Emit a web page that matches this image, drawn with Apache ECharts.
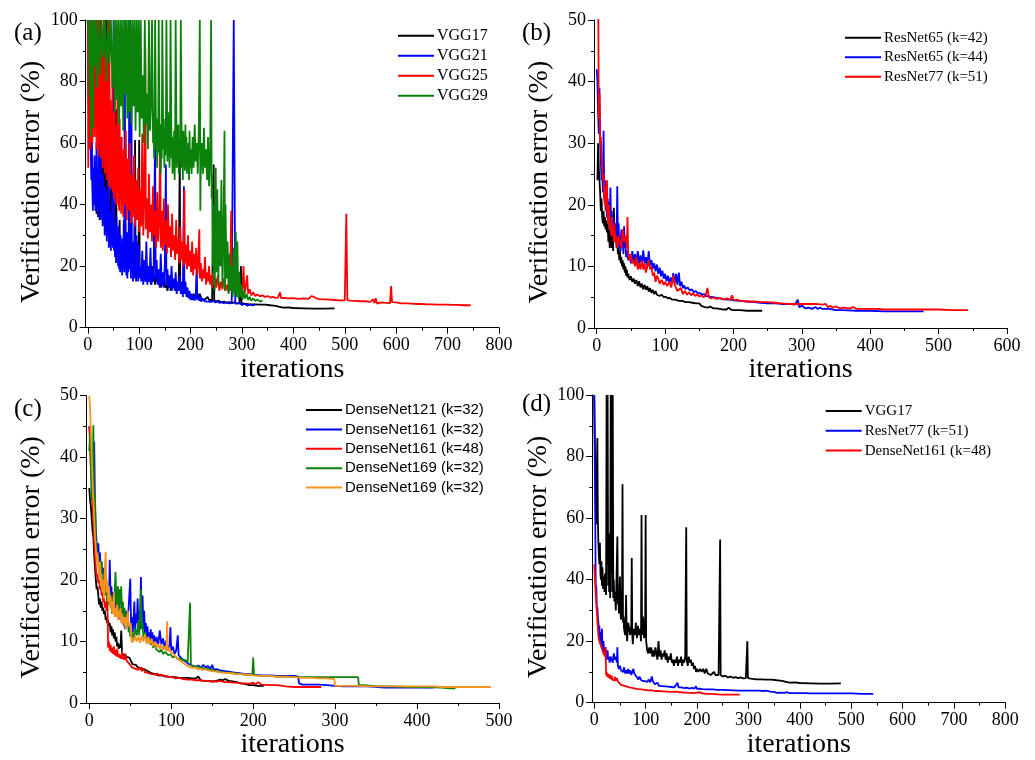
<!DOCTYPE html>
<html>
<head>
<meta charset="utf-8">
<script src="https://cdn.jsdelivr.net/npm/echarts@6/dist/echarts.min.js"></script>
<style>html,body{margin:0;padding:0;background:#fff}#c{width:1035px;height:760px}</style>
</head>
<body>
<div id="c"></div>
<script>
// ---------- data: [iteration, verification error %] ----------
const vgg17 = [[0,100],[2,100],[3,62],[4,58],[5,75],[6,86],[7,60],[8,52],[9,48],[10,45],[11,52],[12,42],[13,40],[14,46],[15,38],[16,44],[17,37],[18,41],[19,39],[20,36],[21,42],[22,38],[23,35],[24,100],[25,45],[26,100],[27,38],[28,55],[29,36],[30,40],[31,34],[32,100],[33,42],[34,100],[35,36],[36,100],[37,34],[38,40],[39,33],[40,36],[42,30],[43,38],[45,54],[46,32],[47,35],[48,29],[50,41],[51,30],[52,27],[54,33],[55,71],[56,26],[57,28],[58,24],[60,22],[61,27],[62,35],[63,23],[64,20],[66,26],[68,24],[70,22],[72,25],[73,47],[74,22],[75,19],[77,24],[79,22],[81,26],[83,21],[85,25],[87,22],[89,24],[91,20],[92,61],[93,22],[95,28],[97,21],[99,24],[100,61],[101,20],[103,17],[105,16],[107,18],[109,16],[111,18],[113,15],[115,17],[117,15],[119,18],[121,16],[123,14],[125,20],[127,15],[129,17],[131,14],[133,16],[135,15],[137,17],[139,14],[141,16],[143,13],[145,15],[147,14],[149,16],[151,13],[153,14],[155,12],[157,14],[159,13],[161,15],[163,12],[165,14],[167,13],[169,15],[171,12],[173,14],[175,13],[177,15],[179,57],[180,14],[182,12],[184,15],[186,13],[188,14],[190,12],[192,13],[194,11],[196,12],[198,10],[200,11],[203,10],[206,11],[209,10],[212,11],[215,9.5],[218,11],[221,9.5],[224,10],[227,9],[230,9.5],[233,10],[236,9],[239,9.5],[242,9],[245,53],[246,9],[250,8.5],[255,8.8],[260,8.2],[265,8.5],[270,8.1],[275,8.3],[280,8],[285,8.2],[290,7.9],[295,8],[298,20],[299,8],[305,7.8],[315,7.6],[325,7.6],[335,7.5],[345,7.5],[355,7.3],[362,7.2],[368,7],[370,7.6],[373,6.8],[380,6.5],[390,6.6],[400,6.4],[420,6.3],[440,6.2],[460,6.2],[480,6.3]];

const vgg21 = [[0,100],[2,100],[3,80],[4,60],[5,75],[6,55],[7,48],[8,62],[9,45],[10,38],[11,52],[12,40],[13,56],[14,42],[15,48],[16,38],[17,60],[18,41],[19,52],[20,36],[21,45],[22,100],[23,38],[24,48],[25,35],[26,55],[27,37],[28,44],[29,33],[30,50],[31,34],[32,42],[33,30],[34,46],[35,32],[36,38],[37,28],[38,44],[39,30],[40,100],[41,26],[42,40],[43,29],[44,34],[45,25],[46,38],[47,27],[48,62],[49,26],[50,100],[51,25],[52,34],[53,23],[54,30],[55,21],[56,36],[57,22],[58,28],[59,20],[60,33],[61,19],[62,27],[63,18],[64,30],[65,20],[66,25],[67,17],[68,29],[69,19],[70,35],[71,18],[72,100],[73,20],[74,26],[75,17],[76,31],[77,16],[78,24],[79,18],[80,45],[81,100],[82,19],[83,30],[84,16],[85,75],[86,18],[87,28],[88,15],[89,26],[90,17],[91,34],[92,16],[93,24],[94,15],[95,30],[96,16],[97,22],[98,15],[99,27],[100,16],[102,20],[104,15],[106,25],[108,14],[110,22],[112,15],[114,28],[116,14],[118,20],[120,15],[122,26],[124,14],[126,19],[128,15],[130,47],[131,61],[132,16],[134,22],[136,14],[138,19],[140,13],[142,24],[144,14],[146,18],[148,13],[150,21],[152,53],[153,14],[155,19],[157,13],[159,17],[161,12],[163,20],[165,13],[167,16],[169,12],[171,18],[173,11],[175,15],[177,12],[179,17],[181,11],[183,14],[185,10],[187,46],[188,11],[190,15],[192,10],[194,13],[196,9.5],[198,12],[200,9],[202,11],[204,9],[206,10.5],[208,8.8],[210,10],[212,21],[213,9],[215,11],[217,8.7],[219,10],[221,8.5],[224,9.5],[227,8.6],[230,9.2],[233,8.5],[236,9],[240,8.4],[244,8.8],[248,8.2],[252,8.5],[256,8.1],[260,8.3],[265,8],[270,8.2],[275,7.9],[280,8],[283,7.8],[284,100],[286,100],[287,7.8],[290,7.5],[295,8],[300,7.4],[305,7.8],[310,7.2],[315,7.5],[320,7.3],[325,7.4]];

const vgg25 = [[0,100],[1,52],[2,100],[3,70],[4,95],[5,58],[6,100],[7,65],[8,88],[9,60],[10,100],[11,72],[12,92],[13,62],[14,100],[15,68],[16,85],[17,58],[18,100],[19,64],[20,90],[21,56],[22,100],[23,66],[24,80],[25,55],[26,100],[27,62],[28,84],[29,52],[30,95],[31,58],[32,76],[33,50],[34,100],[35,56],[36,72],[37,48],[38,88],[39,54],[40,68],[41,46],[42,100],[43,52],[44,74],[45,45],[46,64],[47,50],[48,82],[49,44],[50,60],[51,42],[52,70],[53,47],[54,58],[55,40],[56,66],[57,45],[58,77],[59,40],[60,56],[61,38],[62,68],[63,44],[64,54],[65,37],[66,62],[67,42],[68,52],[69,36],[70,58],[72,40],[74,64],[76,35],[78,55],[80,38],[82,60],[84,34],[86,50],[88,36],[90,56],[92,33],[94,48],[96,35],[98,52],[100,31],[102,45],[104,33],[106,63],[108,30],[110,44],[112,91],[113,32],[115,42],[117,29],[119,50],[121,31],[123,40],[125,28],[127,46],[129,30],[131,38],[133,26],[135,44],[137,28],[139,36],[141,62],[142,26],[144,38],[146,25],[148,42],[150,27],[152,35],[154,24],[156,40],[158,26],[160,33],[162,23],[164,37],[166,25],[168,30],[170,22],[172,35],[174,24],[176,29],[178,21],[180,33],[182,22],[184,28],[186,20],[188,45],[189,21],[191,27],[193,19],[195,30],[197,20],[199,25],[201,18],[203,28],[205,17],[207,24],[209,19],[211,26],[213,17],[215,22],[217,32],[218,16],[220,21],[222,15],[224,19],[226,16],[228,23],[230,14],[232,18],[234,15],[236,20],[238,14],[240,17],[242,13],[244,18],[246,14],[248,16],[250,13],[253,17],[256,12],[259,15],[262,12.5],[265,16],[268,12],[271,14],[274,11.5],[277,15],[279,38],[280,12],[283,14],[286,11],[289,13],[292,11.5],[295,14],[298,11],[301,13],[303,20],[305,11],[308,14],[310,17],[312,11],[315,12.5],[318,10.5],[322,11.5],[326,10.3],[330,10.8],[335,10.2],[340,10.5],[345,10],[350,10.3],[355,9.8],[360,10],[365,9.7],[370,9.8],[374,11.5],[376,9.6],[380,9.7],[390,9.5],[400,9.6],[410,9.4],[420,9.5],[430,9.4],[435,10.3],[440,10],[445,9.5],[450,9.3],[460,9.2],[470,9.1],[480,9],[490,8.9],[500,8.9],[502,9],[503,37],[505,9],[510,8.8],[520,8.7],[530,8.6],[540,8.6],[550,8.4],[555,9.2],[558,8],[560,9.6],[563,7.8],[566,8.3],[570,8.2],[580,8.1],[588,8],[590,13.5],[592,8.3],[595,8],[600,8.2],[610,7.9],[620,7.9],[630,7.8],[640,7.7],[650,7.7],[660,7.6],[670,7.6],[680,7.5],[690,7.5],[700,7.5],[710,7.4],[720,7.4],[730,7.3],[745,7.3]];

const vgg29 = [[0,100],[2,95],[4,75],[5,100],[6,62],[7,72],[8,100],[10,65],[12,100],[14,85],[16,100],[18,78],[21,100],[24,82],[27,100],[30,88],[33,100],[36,80],[39,100],[42,86],[45,100],[48,78],[51,100],[53,70],[55,100],[57,74],[59,100],[61,66],[63,100],[65,72],[67,100],[69,64],[71,100],[73,76],[75,100],[77,68],[79,100],[81,70],[83,100],[85,66],[87,100],[89,72],[91,100],[93,64],[95,100],[97,70],[99,100],[101,62],[103,100],[105,68],[107,82],[109,60],[111,100],[113,66],[115,76],[117,58],[119,100],[121,64],[123,72],[125,100],[126,100],[127,60],[128,70],[129,55],[130,66],[131,100],[132,100],[133,58],[134,68],[135,52],[136,64],[137,57],[138,100],[139,100],[140,56],[141,66],[142,50],[143,62],[144,55],[145,100],[146,100],[147,58],[148,68],[149,52],[150,63],[151,56],[152,66],[153,100],[154,100],[155,54],[156,64],[157,58],[158,70],[159,52],[160,66],[161,100],[162,100],[163,55],[164,62],[165,50],[166,60],[167,54],[168,64],[169,48],[170,62],[171,100],[172,100],[173,52],[174,60],[175,55],[176,66],[177,50],[178,60],[179,54],[180,62],[181,100],[182,100],[183,52],[184,58],[185,48],[186,64],[187,55],[188,60],[189,51],[190,66],[191,53],[192,62],[193,50],[194,58],[195,54],[196,60],[197,48],[198,64],[199,52],[200,58],[202,50],[204,62],[206,52],[208,66],[210,54],[212,60],[214,50],[216,64],[218,100],[219,38],[220,55],[222,60],[224,50],[226,65],[228,52],[230,58],[232,48],[234,62],[236,46],[238,55],[240,100],[241,42],[242,50],[243,20],[244,40],[245,14],[246,35],[247,12],[248,30],[249,52],[250,18],[252,45],[254,14],[256,38],[258,20],[260,48],[262,13],[264,30],[266,64],[267,12],[268,40],[270,16],[272,28],[274,11],[276,24],[278,12],[280,20],[282,10],[284,26],[286,11],[288,31],[289,10],[291,28],[293,9.5],[295,18],[297,10],[299,14],[301,9],[303,12],[306,9.5],[309,11],[312,9],[315,10],[318,8.8],[322,9.5],[326,8.7],[330,9.2],[335,8.5],[340,8.8]];

const resnet65k42 = [[1,24],[2,30],[3,26],[4,24],[5,22],[6,19],[7,21],[8,18],[9,17],[10,19],[11,16.5],[12,18],[13,16],[14,17.5],[15,15.5],[16,17],[17,14],[18,16],[19,13],[20,15.5],[21,14],[22,13],[23,16],[24,12.5],[25,19.5],[26,15],[27,14],[28,17],[29,13],[30,14],[31,12],[32,13],[33,11],[34,12.5],[35,10.5],[36,11.5],[37,10],[38,11],[39,9.5],[40,10.5],[41,9],[42,10],[43,8.5],[44,9.5],[45,8.2],[46,8.8],[48,7.8],[50,8.4],[52,7.5],[54,8],[56,7.2],[58,7.8],[60,6.8],[62,7.6],[64,6.6],[66,7.2],[68,6.3],[70,7],[72,6.2],[74,6.8],[76,5.9],[78,6.5],[80,5.7],[82,6.2],[84,5.5],[86,6],[88,5.4],[90,5.7],[92,5.2],[95,5.4],[98,5],[101,5.1],[104,4.8],[107,4.9],[110,4.6],[115,4.6],[120,4.4],[125,4.4],[130,4.2],[135,4.2],[140,4.1],[145,4.0],[150,4.0],[153,3.6],[155,3.9],[158,3.4],[160,3.6],[163,3.3],[166,3.5],[170,3.2],[175,3.2],[180,3.1],[185,3.0],[190,3.0],[193,3.3],[196,3.0],[200,2.9],[210,2.9],[220,2.8],[230,2.8],[242,2.8]];

const resnet65k44 = [[0,42],[1,40],[2,35],[3,31.5],[4,39],[5,30],[6,27],[7,24],[8,26],[9,22],[10,32],[11,21],[12,24],[13,19],[14,22],[15,18],[16,21],[17,17.5],[18,20.5],[19,16],[20,22.8],[21,17],[22,19],[23,15.5],[24,18],[25,15],[26,17],[27,14],[28,16.5],[29,13.5],[30,23],[31,14],[32,17],[33,13],[34,15],[35,12.5],[36,16],[37,13],[38,14.5],[39,12],[40,16.5],[41,13],[42,14],[43,11.5],[44,12.5],[46,11],[48,12],[50,10.5],[52,12.5],[54,10.8],[56,12],[58,10.5],[60,12.5],[62,10.5],[64,11.8],[66,10.2],[68,12.6],[70,10.5],[72,11.5],[74,10],[76,12.5],[78,10.2],[80,11],[82,9.6],[84,10.5],[86,9.2],[88,10.3],[90,8.8],[92,9.8],[94,8.4],[96,9.3],[98,8],[100,8.8],[102,7.6],[104,8.5],[106,7.3],[108,8.2],[110,7.4],[112,8.9],[114,7.2],[116,8.8],[118,7],[120,9],[122,6.8],[124,7.5],[126,6.5],[128,6.9],[130,6.3],[133,6.6],[136,6.1],[139,6.3],[142,5.8],[145,6],[148,5.6],[151,5.7],[154,5.4],[157,5.5],[160,5.2],[165,5.1],[170,5],[175,4.9],[180,4.8],[185,4.7],[190,4.6],[195,4.6],[200,4.5],[210,4.4],[220,4.3],[230,4.2],[240,4.1],[250,4.0],[260,4.0],[270,3.9],[280,3.9],[290,3.8],[292,3.5],[294,4.6],[296,3.4],[300,3.6],[305,3.2],[310,3.3],[315,3.1],[320,3.4],[323,3.1],[326,3.3],[330,3.1],[340,3.1],[350,2.9],[360,2.9],[380,2.8],[400,2.8],[420,2.7],[440,2.7],[460,2.7],[478,2.7]];

const resnet77k51 = [[0,100],[1,100],[2,58],[3,34],[4,38],[5,30],[6,31],[7,28],[8,26],[9,24],[10,25],[11,21],[12,20],[13,23],[14,19],[15,24],[16,18],[17,17],[18,20],[19,16],[20,17],[21,15],[22,18],[23,15],[24,16],[25,14],[26,17],[27,14],[28,15],[30,13],[32,15],[34,14],[36,13],[38,16],[40,14],[42,15],[44,13],[45,18],[46,12],[48,11],[50,12],[52,10.5],[54,11],[56,10],[58,11.5],[60,9.5],[62,10.5],[64,9.5],[66,11],[68,9.5],[70,10.5],[72,9],[74,10],[76,11],[78,9.5],[80,10],[82,8.5],[84,9],[86,7.5],[88,8.5],[90,8],[92,7.2],[95,7.8],[98,7],[100,7.5],[103,6.8],[106,7.5],[109,6.6],[112,8.5],[114,7],[116,6.5],[118,6],[120,5.8],[123,6.5],[126,5.5],[129,6],[132,5.4],[135,5.8],[138,5.3],[141,5.6],[144,5.2],[147,5.5],[150,5.1],[153,5.3],[156,5],[159,5.2],[162,6.5],[164,5],[167,4.8],[170,5],[175,4.7],[180,4.9],[185,4.6],[190,4.8],[195,4.6],[198,5.3],[200,4.5],[205,4.6],[210,4.4],[220,4.3],[230,4.3],[240,4.2],[250,4.2],[260,4.1],[270,4.0],[280,3.9],[290,3.9],[300,3.9],[310,3.9],[320,3.9],[330,3.8],[335,3.9],[338,3.4],[342,3.6],[345,3.3],[350,3.5],[355,3.2],[360,3.3],[370,3.2],[375,3.4],[380,3.1],[390,3.1],[400,3.1],[410,3.1],[420,3.0],[440,3.0],[460,3.0],[480,3.0],[500,3.0],[520,2.9],[543,2.9]];

const densenet121k32 = [[0,35],[1,33],[2,32],[3,30],[4,28],[5,27],[6,24],[7,22],[8,20],[9,18.5],[10,19],[11,17.5],[12,16],[13,17],[14,15.5],[15,16.5],[16,15],[17,15.5],[18,14.5],[19,15],[20,13.5],[21,14],[22,13],[23,13.5],[24,12.5],[25,13],[26,11.5],[27,12.5],[28,11],[29,12],[30,10.5],[31,11.5],[32,10],[33,10.8],[34,9.2],[35,9.8],[36,8.8],[37,9.5],[38,9],[39,11.8],[40,8.2],[41,7.8],[42,8],[43,7.6],[44,7.9],[45,7.5],[47,7.3],[49,7.4],[51,6.8],[53,6.3],[55,6],[57,6.2],[59,5.8],[61,6],[63,5.7],[65,5.9],[67,5.5],[69,5.4],[71,5.2],[73,5],[75,4.9],[78,4.8],[81,4.7],[84,4.5],[87,4.6],[90,4.4],[95,4.3],[100,4.2],[105,4.2],[110,4.1],[115,4.1],[120,4.1],[125,4.0],[130,4.0],[133,4.3],[136,3.7],[140,3.6],[145,3.6],[150,3.5],[155,3.6],[160,3.8],[163,3.7],[166,3.9],[170,3.6],[175,3.5],[180,3.4],[185,3.2],[190,3.1],[195,2.9],[200,2.9],[205,2.8],[210,2.8],[213,2.8]];

const densenet161k32 = [[0,45],[1,44],[2,40],[3,36],[4,33],[5,30],[6,42.5],[7,32],[8,28],[9,26],[10,24],[11,26],[12,23],[13,24.5],[14,21],[15,23],[16,20],[17,22],[18,19],[19,21],[20,18],[21,20],[22,17],[23,19],[24,16.5],[25,23.3],[26,17],[27,19],[28,16],[29,18],[30,15.5],[31,17.5],[32,15],[33,17],[34,14.5],[35,16.5],[36,14],[37,16],[38,13.5],[39,15.5],[40,13],[41,15],[42,12.5],[43,14],[44,12],[45,15],[46,13],[48,15.5],[50,20.2],[51,13],[52,14],[53,11.5],[54,13.5],[55,16.5],[56,12],[57,14.5],[58,13],[59,17],[60,12.5],[61,15],[62,12],[63,20.5],[64,14],[65,17.5],[66,12],[67,15],[68,11.5],[69,13],[70,10.5],[71,12.5],[72,10],[73,11.5],[74,10],[75,12],[76,9.5],[77,11.5],[78,9.8],[79,11],[80,9.5],[82,10.8],[84,9.2],[86,11.8],[88,9.5],[90,10.5],[92,9],[94,10.2],[96,8.8],[98,9.5],[99,12.3],[100,8.5],[102,9.2],[104,8],[106,8.5],[108,11],[109,7.8],[111,8],[113,7.2],[115,7.5],[117,6.8],[119,7],[121,6.4],[123,6.5],[125,6.1],[127,6.3],[130,5.9],[133,6.1],[136,5.7],[139,6.2],[142,5.8],[145,6],[148,5.6],[150,6.2],[152,5.4],[155,5.5],[160,5.3],[165,5.2],[170,5.1],[175,5],[180,4.9],[185,4.8],[190,4.7],[195,4.7],[200,4.6],[210,4.5],[220,4.5],[230,4.4],[240,4.4],[250,4.4],[255,4.3],[256,3.2],[260,3.0],[270,3.0],[280,3.0],[290,2.9],[300,2.8],[310,2.7],[320,2.7],[340,2.7],[360,2.5],[380,2.5],[400,2.5],[420,2.5]];

const densenet161k48 = [[0,45],[1,42],[2,38],[3,36],[4,32],[5,30],[6,27],[7,24],[8,22],[9,20.5],[10,21],[11,19.5],[12,20],[13,18.5],[14,19],[15,17.5],[16,18],[17,16.5],[18,17],[19,15.5],[20,16.5],[21,15],[22,18],[23,9],[24,10],[25,8.5],[26,9.5],[27,8.2],[28,9],[29,8],[30,9.2],[31,7.8],[32,8.6],[33,7.6],[34,8.8],[35,7.5],[36,8],[37,7.3],[38,7.8],[39,7.2],[40,8.5],[41,7.1],[42,7.6],[43,7],[44,8],[45,7.2],[46,6.8],[48,6.5],[50,6.2],[52,5.8],[54,6.1],[56,5.6],[58,5.9],[60,5.4],[62,5.8],[64,5.2],[66,5.6],[68,5],[70,5.3],[72,4.9],[74,5.1],[76,4.7],[78,4.9],[80,4.6],[83,4.8],[86,4.4],[89,4.6],[92,4.3],[95,4.4],[98,4.2],[101,4.3],[105,4.0],[110,4.1],[115,3.9],[120,3.8],[125,3.8],[130,3.7],[135,3.7],[140,3.6],[145,3.6],[150,3.5],[155,3.5],[160,3.6],[165,3.4],[170,3.4],[175,3.3],[180,3.3],[185,3.2],[190,3.2],[195,3.1],[200,3.3],[203,3.0],[206,3.4],[210,3.0],[220,2.9],[230,2.9],[240,2.7],[250,2.6],[260,2.6],[270,2.6],[283,2.6]];

const densenet169k32a = [[0,41],[1,44],[2,38],[3,33],[4,35],[5,45.2],[6,30],[7,34],[8,27],[9,25],[10,23],[11,24],[12,21],[13,22.5],[14,19.5],[15,23],[16,18.5],[17,21],[18,19],[19,22],[20,17.5],[21,20],[22,16.5],[23,19],[24,16],[25,18],[26,15.5],[27,17],[28,14.5],[29,17.5],[30,15],[31,18],[32,21.3],[33,17],[34,15],[35,19],[36,14.5],[37,18.5],[38,16],[39,19],[40,14],[41,16.5],[42,13.5],[43,15.5],[44,13],[45,14.5],[46,12.5],[47,14],[48,11.5],[49,13],[50,10.8],[52,11.5],[54,10.5],[56,12],[58,11],[60,13.5],[61,11],[62,14.5],[63,18.5],[64,12],[65,13],[66,10.5],[68,11.5],[70,10],[72,10.5],[74,9.5],[76,10],[78,9],[80,9.5],[82,8.7],[84,9],[86,8.3],[88,8.7],[90,8],[93,8.3],[96,7.8],[99,7.9],[102,7.4],[105,7.6],[108,7.1],[111,7.3],[114,6.9],[117,7],[120,6.6],[122,6.5],[123,16.3],[124,6.2],[126,6.3],[129,5.9],[132,6],[135,5.7],[138,5.8],[141,5.5],[144,5.6],[147,5.4],[150,5.4],[155,5.2],[160,5.1],[165,5],[170,4.9],[175,4.9],[180,4.8],[185,4.7],[190,4.6],[195,4.6],[199,4.6],[200,7.4],[201,4.6],[205,4.5],[210,4.4],[220,4.4],[230,4.3],[240,4.3],[250,4.2],[260,4.2],[270,4.2],[280,4.2],[290,4.2],[300,4.2],[310,4.2],[320,4.2],[328,4.2],[329,2.9],[335,2.9],[345,2.8],[355,2.7],[370,2.7],[390,2.6],[410,2.6],[430,2.5],[440,2.4],[447,2.4]];

const densenet169k32b = [[0,50],[1,48],[2,44],[3,40],[4,36],[5,33],[6,30],[7,27],[8,25],[9,23],[10,24.5],[11,22],[12,21],[13,23],[14,19],[15,21],[16,18],[17,20],[18,17],[19,22],[20,24.6],[21,18],[22,20],[23,16.5],[24,19],[25,16],[26,17.5],[27,15],[28,16.5],[29,14.5],[30,18],[31,14],[32,15.5],[33,14],[34,16],[35,13.5],[36,15],[37,14],[38,15.5],[39,13],[40,14.5],[41,13],[42,14],[43,12.5],[44,14],[45,12],[46,13.5],[47,15],[48,12.5],[50,13],[51,11],[52,9.8],[53,10.5],[54,10],[56,11],[58,10],[60,10.8],[62,9.8],[64,11],[66,10],[68,11.2],[70,9.6],[72,10.8],[74,9.5],[76,10.5],[78,9.2],[80,10],[82,9],[84,9.6],[86,8.8],[88,9.5],[90,8.6],[92,9.2],[94,8.5],[95,13.3],[96,8.4],[98,8.8],[100,8.2],[102,8],[104,7.8],[106,7.4],[108,7.5],[110,7],[112,6.8],[114,6.6],[116,6.5],[118,6.2],[120,6],[123,5.8],[126,5.7],[129,5.8],[132,5.5],[135,5.6],[138,5.4],[141,5.5],[145,5.3],[150,5.2],[155,5.1],[160,5.0],[165,4.9],[170,4.9],[175,4.8],[180,4.7],[185,4.7],[190,4.6],[195,4.6],[200,4.5],[210,4.4],[220,4.4],[230,4.3],[240,4.3],[250,4.2],[260,4.1],[270,4.1],[280,4.0],[290,4.0],[299,3.9],[300,2.8],[310,2.8],[320,2.8],[330,2.8],[340,2.7],[360,2.7],[380,2.7],[400,2.7],[420,2.7],[430,2.6],[450,2.6],[470,2.6],[490,2.6]];

// tick labels
const xTicksA = [0,100,200,300,400,500,600,700,800];
const xTicksB = [0,100,200,300,400,500,600];
const xTicksC = [0,100,200,300,400,500];
const xTicksD = [0,100,200,300,400,500,600,700,800];

// ---------- chart ----------
const SERIF = 'Liberation Serif';
const SANS = 'Liberation Sans';
const C = {black:'#000000', blue:'#0000ff', red:'#ff0000', green:'#0a820a', orange:'#f7941d'};

const grids = [
  {left:85.7, top:20, width:413.3, height:307.7},
  {left:594.0, top:20, width:413.0, height:308},
  {left:86.0, top:395.7, width:413.0, height:307.6},
  {left:592.2, top:395, width:413.1, height:307.7}
];

function majorX(gi, max, ticks){
  return {
    type:'value', gridIndex:gi, min:-4, max:max, position:'bottom',
    axisLine:{show:true, onZero:false, lineStyle:{color:'#000', width:1}},
    axisTick:{show:true, inside:false, length:6, customValues:ticks, lineStyle:{color:'#000', width:1}},
    axisLabel:{show:true, customValues:ticks, margin:9, fontFamily:SERIF, fontSize:18, color:'#000'},
    splitLine:{show:false},
    name:'iterations', nameLocation:'middle', nameGap:28,
    nameTextStyle:{fontFamily:SERIF, fontSize:28, color:'#000'}
  };
}
function minorX(gi, max, ticks){
  const mids = ticks.slice(0,-1).map(t => t + (ticks[1]-ticks[0])/2);
  return {
    type:'value', gridIndex:gi, min:-4, max:max, position:'bottom',
    axisLine:{show:false},
    axisTick:{show:true, inside:false, length:3, customValues:mids, lineStyle:{color:'#000', width:1}},
    axisLabel:{show:false}, splitLine:{show:false}
  };
}
function yAx(gi, max, interval){
  return {
    type:'value', gridIndex:gi, min:0, max:max, interval:interval,
    axisLine:{show:true, onZero:false, lineStyle:{color:'#000', width:1}},
    axisTick:{show:true, inside:false, length:6, lineStyle:{color:'#000', width:1}},
    minorTick:{show:true, splitNumber:2, length:3, lineStyle:{color:'#000', width:1}},
    axisLabel:{margin:8, fontFamily:SERIF, fontSize:18, color:'#000'},
    splitLine:{show:false},
    name:'Verification error (%)', nameLocation:'middle', nameGap:40, nameRotate:90,
    nameTextStyle:{fontFamily:SERIF, fontSize:28, color:'#000', padding:[0,16,0,0]}
  };
}

const xAxis = [
  majorX(0, 800, xTicksA), majorX(1, 600, xTicksB), majorX(2, 500, xTicksC), majorX(3, 800, xTicksD),
  minorX(0, 800, xTicksA), minorX(1, 600, xTicksB), minorX(2, 500, xTicksC), minorX(3, 800, xTicksD)
];
const yAxis = [yAx(0,100,20), yAx(1,50,10), yAx(2,50,10), yAx(3,100,20)];

function ln(name, data, color, gi){
  return {
    type:'line', name:name, data:data, xAxisIndex:gi, yAxisIndex:gi,
    showSymbol:false, symbol:'none', clip:true, animation:false,
    lineStyle:{color:color, width:1.8}, itemStyle:{color:color},
    emphasis:{disabled:true}
  };
}

const series = [
  ln('VGG17', vgg17, C.black, 0),
  ln('VGG21', vgg21, C.blue, 0),
  ln('VGG25', vgg25, C.red, 0),
  ln('VGG29', vgg29, C.green, 0),
  ln('ResNet65 (k=42)', resnet65k42, C.black, 1),
  ln('ResNet65 (k=44)', resnet65k44, C.blue, 1),
  ln('ResNet77 (k=51)', resnet77k51, C.red, 1),
  ln('DenseNet121 (k=32)', densenet121k32, C.black, 2),
  ln('DenseNet161 (k=32)', densenet161k32, C.blue, 2),
  ln('DenseNet161 (k=48)', densenet161k48, C.red, 2),
  ln('DenseNet169 (k=32)', densenet169k32a, C.green, 2),
  ln('DenseNet169 (k=32) ', densenet169k32b, C.orange, 2),
  ln('VGG17 ', vgg17, C.black, 3),
  ln('ResNet77 (k=51) ', resnet77k51, C.blue, 3),
  ln('DenseNet161 (k=48) ', densenet161k48, C.red, 3)
];

function leg(names, left, top, font, size, gap){
  return {
    orient:'vertical', left:left, top:top, itemWidth:36, itemHeight:2, itemGap:gap,
    icon:'rect', selectedMode:false, padding:0,
    textStyle:{fontFamily:font, fontSize:size, color:'#000', padding:[0,0,0,-2]},
    data:names
  };
}

const legend = [
  leg(['VGG17','VGG21','VGG25','VGG29'], 398, 27.7, SERIF, 16, 4),
  leg(['ResNet65 (k=42)','ResNet65 (k=44)','ResNet77 (k=51)'], 845, 30.2, SERIF, 15, 4.5),
  leg(['DenseNet121 (k=32)','DenseNet161 (k=32)','DenseNet161 (k=48)','DenseNet169 (k=32)','DenseNet169 (k=32) '], 306, 402.5, SANS, 15, 4.4),
  leg(['VGG17 ','ResNet77 (k=51) ','DenseNet161 (k=48) '], 825.7, 403.5, SERIF, 15, 4.8)
];

function lab(t, x, y){
  return {type:'text', left:x, top:y, silent:true,
    style:{text:t, font:'25px "Liberation Serif"', fill:'#000'}};
}

const chart = echarts.init(document.getElementById('c'), null, {renderer:'canvas'});
chart.setOption({
  animation:false,
  backgroundColor:'#ffffff',
  grid:grids, xAxis:xAxis, yAxis:yAxis, series:series, legend:legend,
  graphic:[lab('(a)',14,21), lab('(b)',522,21), lab('(c)',14,397), lab('(d)',522,392)]
});
</script>
</body>
</html>
